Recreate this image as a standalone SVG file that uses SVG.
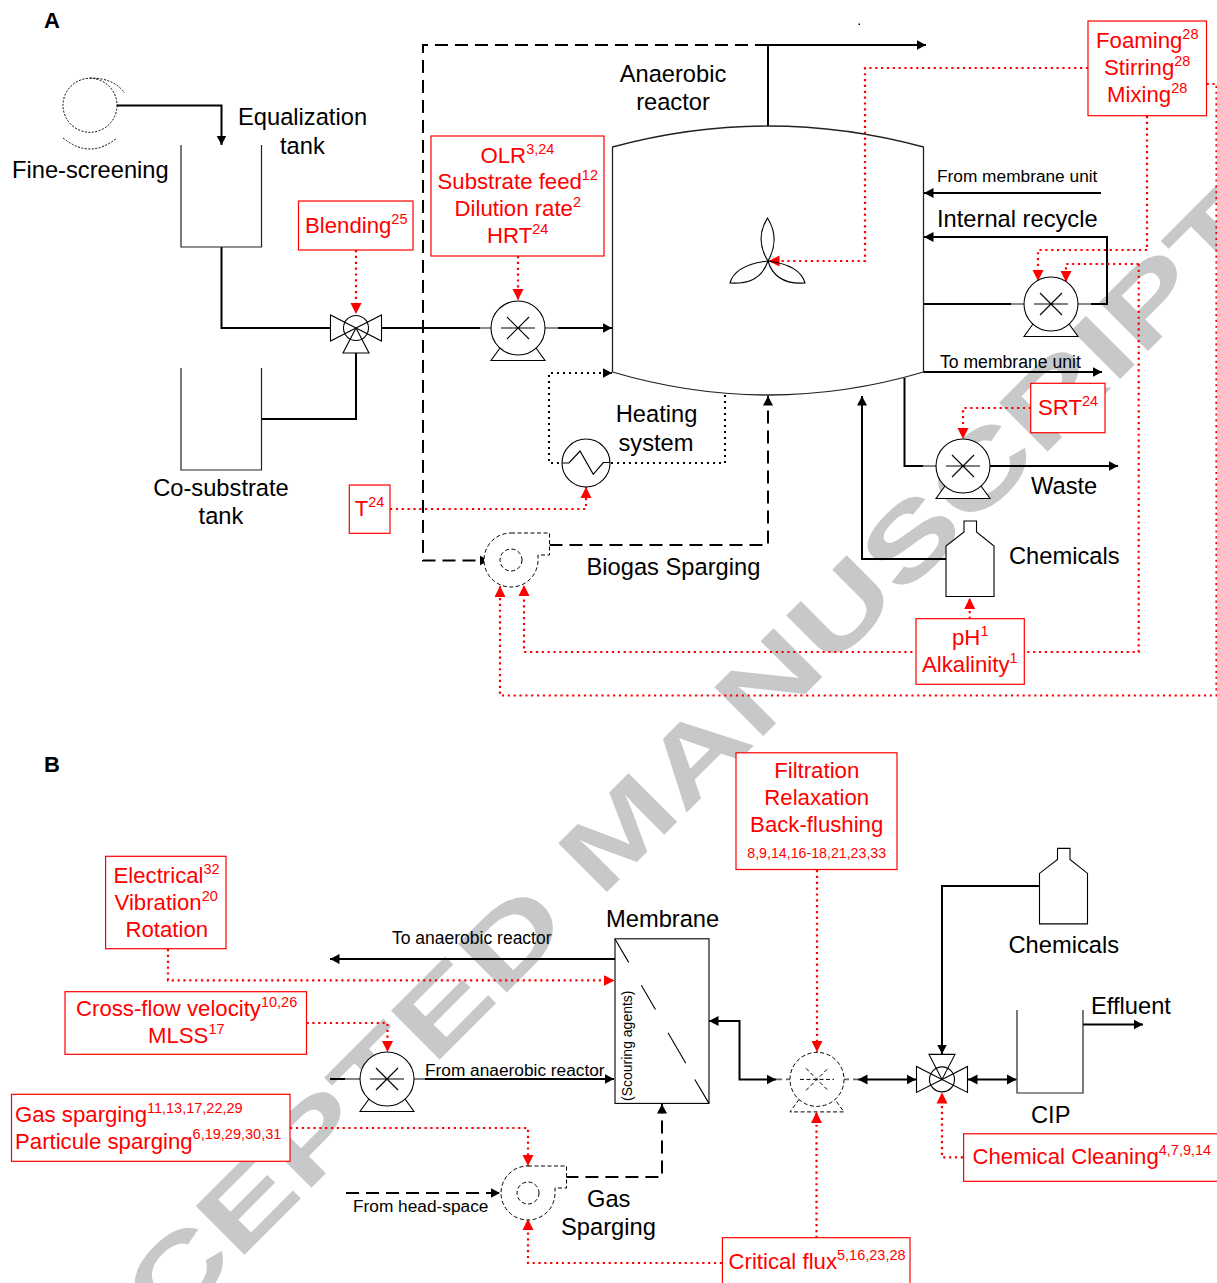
<svg xmlns="http://www.w3.org/2000/svg" width="1217" height="1283" viewBox="0 0 1217 1283">
<style>
text{font-family:"Liberation Sans",Arial,sans-serif;fill:#000}
.r{fill:#f00}
.l{font-size:23.700px}
.s{font-size:17.300px}
.m{font-size:22.200px}
.u{font-size:14.500px}
.c{text-anchor:middle}
.box{fill:#fff;stroke:#f00;stroke-width:1.2}
.eq{fill:#fff;stroke:#000;stroke-width:1.1}
.eqd{fill:#fff;stroke:#000;stroke-width:1;stroke-dasharray:4 2.5}
.tank{fill:none;stroke:#222;stroke-width:1.2}
.sol{fill:none;stroke:#000;stroke-width:2}
.arr{marker-end:url(#ab)}
.dash{fill:none;stroke:#000;stroke-width:2;stroke-dasharray:13 7}
.dot{fill:none;stroke:#000;stroke-width:2;stroke-dasharray:2 4}
.rd{fill:none;stroke:#f00;stroke-width:2.200;stroke-dasharray:2.200 3.650;marker-end:url(#ar)}
.rn{fill:none;stroke:#f00;stroke-width:2.200;stroke-dasharray:2.200 3.650}
.stub{fill:none;stroke:#666;stroke-width:1.6}
</style>
<defs>
<marker id="ab" markerUnits="userSpaceOnUse" markerWidth="11" markerHeight="11" refX="9.500" refY="5.500" orient="auto-start-reverse"><path d="M0,0.500L9.500,5.500L0,10.500Z" fill="#000"/></marker>
<marker id="ar" markerUnits="userSpaceOnUse" markerWidth="12" markerHeight="12" refX="11" refY="6" orient="auto"><path d="M0,0.500L11,6L0,11.500Z" fill="#f00"/></marker>
<g id="pumpShape">
<path d="M-18,20L-27,32.500H27L18,20Z"/>
<circle r="27"/>
<path d="M-17,0H17M-11,-11L11,11M-11,11L11,-11" fill="none"/>
</g>
<g id="blowerShape">
<path d="M0,-27H38.500V-5H27V0A27,27 0 1 1 0,-27Z"/>
<circle r="11"/>
</g>
<g id="valveH">
<circle r="12.500"/>
<path d="M0,0L-25.500,-13V13ZM0,0L25.500,-13V13Z" fill="none"/>
<path d="M0,0L-13,25H13Z" fill="none"/>
</g>
<g id="bottle">
<path d="M18,0H30.500V11L48,25V75.500H0V25L18,11Z"/>
</g>
</defs>
<rect width="1217" height="1283" fill="#fff"/>
<text id="watermark" transform="translate(20.200 1479) rotate(-45) scale(1.420 1)" font-size="100" font-weight="700" style="fill:#c6c8ca">ACCEPTED MANUSCRIPT</text>

<g id="connectors">
<path class="sol arr" d="M117,105.500H221.500V145"/>
<path class="sol" d="M221.500,247V328H331"/>
<path class="sol" d="M382,328H480"/>
<path class="sol arr" d="M558,328H612"/>
<path class="stub" d="M480,328H491M545,328H558"/>
<path class="sol" d="M261.500,419H356V353"/>
<path class="dash arr" d="M768,45H423V560.500H489"/>
<path class="sol arr" d="M768,126V45H926"/>
<path class="dash arr" d="M549.500,545H768V396"/>
<path class="sol arr" d="M1101,193H924"/>
<path class="sol arr" d="M1091,304H1107V237H924"/>
<path class="sol" d="M924,304H1011"/>
<path class="stub" d="M1011,304H1024M1078,304H1091"/>
<path class="sol arr" d="M923.500,372H1102"/>
<path class="sol" d="M904.500,378V466H923"/>
<path class="stub" d="M923,466H936"/>
<path class="sol arr" d="M990,466H1118"/>
<path class="sol arr" d="M946,559H862V396"/>
<path class="dot arr" d="M725,395V463H549V373H612"/>

<path class="rn" d="M1147,116V250"/>
<path class="rd" d="M1147,250H1038V281"/>
<path class="rd" d="M1138.700,264H1066V282"/>
<path class="rd" d="M1138.700,264V652H524V585"/>
<path class="rd" d="M1206.600,84H1216.500V695.500H500V586"/>
<path class="rd" d="M1088,68H865V261H768.500"/>
<path class="rd" d="M356,250V314"/>
<path class="rd" d="M518,256V300"/>
<path class="rd" d="M390,509H586V487"/>
<path class="rd" d="M1031,408H963V439"/>
<path class="rd" d="M969.700,619V598"/>

<path class="sol arr" d="M615,959H330"/>
<path class="stub" d="M345,1079H360"/>
<path class="sol" d="M330,1079H345"/>
<path class="stub" d="M414,1079H425"/>
<path class="sol arr" d="M425,1079H614"/>
<path class="sol arr" style="marker-start:url(#ab)" d="M709,1021H739.500V1079.400H776"/>
<path class="stub" d="M776,1079.400H790M843,1079.400H858" stroke-dasharray="6 4"/>
<path class="sol arr" style="marker-start:url(#ab)" d="M858,1079.400H916"/>
<path class="sol arr" style="marker-start:url(#ab)" d="M968,1079.400H1016.500"/>
<path class="sol arr" d="M1039.600,886H942V1054"/>
<path class="sol arr" d="M1083,1024.500H1143"/>
<path class="dash arr" d="M346,1193H500"/>
<path class="dash arr" d="M565.400,1177H662V1104"/>

<path class="rd" d="M168,949V980.400H614.500"/>
<path class="rd" d="M306.500,1023H387.500V1052"/>
<path class="rd" d="M290,1128H528V1166"/>
<path class="rd" d="M817,870V1052"/>
<path class="rd" d="M816.500,1238V1112"/>
<path class="rd" d="M722,1263H528V1219"/>
<path class="rd" d="M963,1157.400H942V1092.500"/>
</g>

<g id="label-a"><text x="44" y="28" font-size="22" font-weight="700">A</text></g>
<g id="label-b"><text x="44" y="772" font-size="22" font-weight="700">B</text></g>

<g id="fine-screening">
<circle cx="90" cy="105.300" r="27" fill="none" stroke="#000" stroke-width="1" stroke-dasharray="2 1.500"/>
<path d="M90,78Q114,78 124.500,93M63,138Q90,160 117,138" fill="none" stroke="#000" stroke-width="1" stroke-dasharray="2 1.500"/>
<text class="l" x="12" y="178">Fine-screening</text>
</g>
<g id="equalization-tank">
<path class="tank" d="M181,145V247H261.500V145"/>
<text class="l" x="238" y="125">Equalization</text>
<text class="l" x="280" y="154">tank</text>
</g>
<g id="co-substrate-tank">
<path class="tank" d="M181,368V470H261.500V368"/>
<text class="l c" x="221" y="496">Co-substrate</text>
<text class="l c" x="221" y="524">tank</text>
</g>
<g id="blend-valve"><use href="#valveH" x="356" y="328" class="eq"/></g>
<g id="feed-pump"><use href="#pumpShape" x="518" y="328" class="eq"/></g>
<g id="reactor">
<path d="M612.500,147Q768,105 923.500,147V372Q768,418 612.500,372Z" fill="none" stroke="#222" stroke-width="1.300"/>
<path d="M768,261Q735,265 730,283Q760,285 768,261ZM768,261Q800,265 805,283Q775,285 768,261ZM768,261C758,245 760,230 767.500,218C775,230 777,245 768,261Z" fill="none" stroke="#000" stroke-width="1.100"/>
<text class="l c" x="673" y="82">Anaerobic</text>
<text class="l c" x="673" y="110">reactor</text>
</g>
<g id="speck"><rect x="858.500" y="23.500" width="1.500" height="1.500" fill="#000"/></g>
<g id="recycle-pump"><use href="#pumpShape" x="1051" y="304" class="eq"/></g>
<g id="waste-pump"><use href="#pumpShape" x="963" y="466" class="eq"/></g>
<g id="heat-exchanger">
<circle cx="586" cy="463" r="24" class="eq"/>
<path d="M562,463H569L580,451L593.300,474.300L603.300,462.500H610" fill="none" stroke="#000" stroke-width="1.200"/>
</g>
<g id="biogas-blower"><use href="#blowerShape" x="511" y="560" class="eqd"/></g>
<g id="chemicals-a">
<use href="#bottle" x="946" y="521" class="eq"/>
<text class="l" x="1009" y="564">Chemicals</text>
</g>
<g id="flow-labels-a">
<text class="s" x="937" y="182">From membrane unit</text>
<text class="l" x="937" y="227">Internal recycle</text>
<text x="940" y="368" font-size="17.600px">To membrane unit</text>
<text class="l" x="1031" y="494">Waste</text>
<text class="l c" x="656.500" y="422">Heating</text>
<text class="l c" x="656" y="451">system</text>
<text class="l" x="586.500" y="575">Biogas Sparging</text>
</g>

<g id="box-blending">
<rect class="box" x="298.500" y="201" width="114.500" height="49"/>
<text class="r m" x="305" y="233">Blending<tspan class="u" dy="-9.500">25</tspan></text>
</g>
<g id="box-olr">
<rect class="box" x="431" y="136" width="173" height="120"/>
<text class="r m" x="480.500" y="163">OLR<tspan class="u" dy="-9.500">3,24</tspan></text>
<text class="r m" x="437.500" y="189">Substrate feed<tspan class="u" dy="-9.500">12</tspan></text>
<text class="r m" x="454.500" y="216">Dilution rate<tspan class="u" dy="-9.500">2</tspan></text>
<text class="r m" x="487" y="243">HRT<tspan class="u" dy="-9.500">24</tspan></text>
</g>
<g id="box-foaming">
<rect class="box" x="1088" y="21" width="118.500" height="94.700"/>
<text class="r m" x="1096" y="48">Foaming<tspan class="u" dy="-9.500">28</tspan></text>
<text class="r m" x="1104" y="75">Stirring<tspan class="u" dy="-9.500">28</tspan></text>
<text class="r m" x="1107" y="102">Mixing<tspan class="u" dy="-9.500">28</tspan></text>
</g>
<g id="box-srt">
<rect class="box" x="1030.700" y="383.300" width="74.300" height="49.400"/>
<text class="r m" x="1038" y="415">SRT<tspan class="u" dy="-9.500">24</tspan></text>
</g>
<g id="box-t">
<rect class="box" x="349.300" y="485" width="40.700" height="48.300"/>
<text class="r m" x="354.700" y="516">T<tspan class="u" dy="-9.500">24</tspan></text>
</g>
<g id="box-ph">
<rect class="box" x="916" y="618.700" width="108.300" height="65.600"/>
<text class="r m" x="952" y="645">pH<tspan class="u" dy="-9.500">1</tspan></text>
<text class="r m" x="922" y="672">Alkalinity<tspan class="u" dy="-9.500">1</tspan></text>
</g>

<g id="membrane">
<rect class="eq" x="615" y="938.800" width="94" height="164.600"/>
<path d="M615,939L628.700,962.400M641.300,985.200L655.500,1009.500M668,1032.700L685.800,1063.200M694.800,1079.500L709,1103.400" stroke="#000" stroke-width="1.100" fill="none"/>
<text transform="translate(632 1101) rotate(-90)" font-size="14px">(Scouring agents)</text>
<text class="l" x="606" y="927">Membrane</text>
</g>
<g id="recirc-pump"><use href="#pumpShape" x="387" y="1079" class="eq"/></g>
<g id="filtration-pump"><use href="#pumpShape" x="817" y="1079.400" class="eqd"/></g>
<g id="cip-valve"><use href="#valveH" transform="translate(942 1079.400) scale(1 -1)" class="eq"/></g>
<g id="gas-blower"><use href="#blowerShape" x="528" y="1193" class="eqd"/></g>
<g id="chemicals-b">
<use href="#bottle" x="1039.500" y="848.400" class="eq"/>
<text class="l" x="1008.500" y="952.500">Chemicals</text>
</g>
<g id="cip-tank">
<path class="tank" d="M1017,1010V1093H1083V1010"/>
<text class="l" x="1031" y="1122.500">CIP</text>
<text class="l" x="1091" y="1014">Effluent</text>
</g>
<g id="flow-labels-b">
<text class="s" x="392" y="944" style="font-size:17.500px">To anaerobic reactor</text>
<text class="s" x="425" y="1076">From anaerobic reactor</text>
<text class="s" x="353" y="1212">From head-space</text>
<text class="l" x="587" y="1207">Gas</text>
<text class="l" x="561" y="1235">Sparging</text>
</g>

<g id="box-electrical">
<rect class="box" x="105.600" y="856.300" width="120.400" height="92.400"/>
<text class="r m" x="113.500" y="883">Electrical<tspan class="u" dy="-9.500">32</tspan></text>
<text class="r m" x="114.500" y="910">Vibration<tspan class="u" dy="-9.500">20</tspan></text>
<text class="r m" x="125.500" y="937">Rotation</text>
</g>
<g id="box-crossflow">
<rect class="box" x="65" y="991.700" width="241.500" height="62.600"/>
<text class="r m" x="76" y="1016">Cross-flow velocity<tspan class="u" dy="-9.500">10,26</tspan></text>
<text class="r m" x="148" y="1043">MLSS<tspan class="u" dy="-9.500">17</tspan></text>
</g>
<g id="box-gas">
<rect class="box" x="11.500" y="1094.300" width="278.500" height="67"/>
<text class="r m" x="15" y="1122">Gas sparging<tspan class="u" dy="-9.500">11,13,17,22,29</tspan></text>
<text class="r m" x="15" y="1148.500">Particule sparging<tspan class="u" dy="-9.500">6,19,29,30,31</tspan></text>
</g>
<g id="box-filtration">
<rect class="box" x="736" y="752.800" width="161" height="116.700"/>
<text class="r m c" x="816.700" y="778">Filtration</text>
<text class="r m c" x="816.700" y="805">Relaxation</text>
<text class="r m c" x="816.700" y="832">Back-flushing</text>
<text class="r c" x="816.700" y="858" font-size="14.200px">8,9,14,16-18,21,23,33</text>
</g>
<g id="box-critical">
<rect class="box" x="722.400" y="1237.700" width="187.600" height="60"/>
<text class="r m" x="728.500" y="1269">Critical flux<tspan class="u" dy="-9.500">5,16,23,28</tspan></text>
</g>
<g id="box-chemical-cleaning">
<rect class="box" x="963.600" y="1133.800" width="270" height="47.500"/>
<text class="r m" x="972.500" y="1164">Chemical Cleaning<tspan class="u" dy="-9.500">4,7,9,14</tspan></text>
</g>
</svg>
